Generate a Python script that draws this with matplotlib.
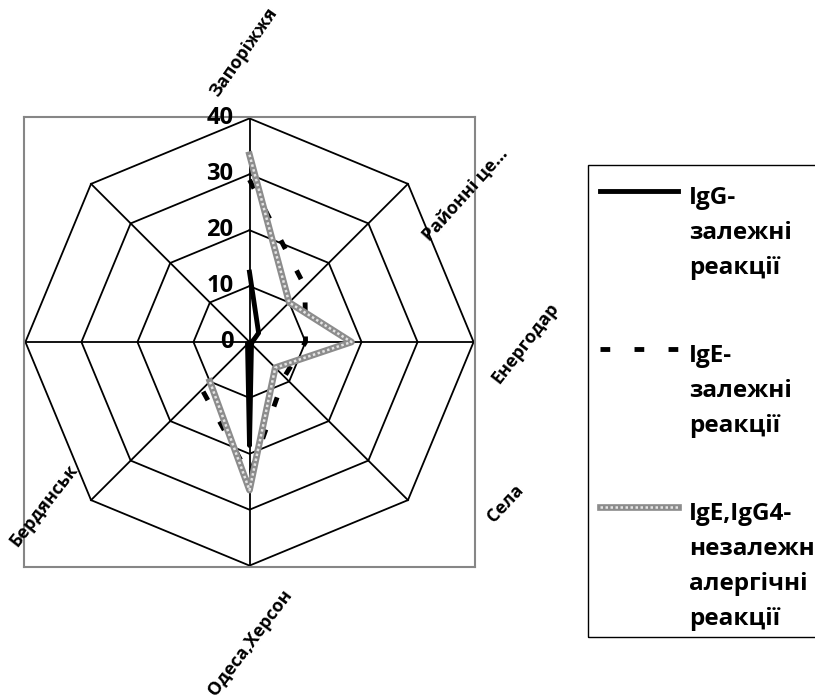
import numpy as np
import matplotlib.pyplot as plt
from matplotlib.patches import Rectangle
from matplotlib.lines import Line2D

plt.rcParams['font.family'] = ['Open Sans', 'DejaVu Sans']

# data (last two categories have no values / labels)
categories = ['Запоріжжя', 'Районні це...', 'Енергодар', 'Села', 'Одеса,Херсон', 'Бердянськ', '', '']
igg = [12.5, 2.3, 0.5, 0.5, 18.5, 0.5]
ige = [29, 14, 10, 8.8, 24, 12]
ige_igg4 = [33.5, 10, 18.2, 6.5, 26.5, 10]
ring_ticks = [0, 10, 20, 30, 40]
# legend text as shown in the reference (third label is cut there)
legend_labels = [['IgG-', 'залежні', 'реакції'],
                 ['IgE-', 'залежні', 'реакції'],
                 ['IgE,IgG4-', 'незалежн', 'алергічні', 'реакції']]

W, H = 815, 700
fig = plt.figure(figsize=(W/100, H/100), dpi=100)
ax = fig.add_axes([24/W, 1-567/H, 451/W, 450/H])

n = len(categories)
ang = np.arange(n) * 2*np.pi/n
rmax = ring_ticks[-1]

def xy(vals):
    v = np.asarray(vals, float)
    a = ang[:len(v)]
    return v*np.sin(a), v*np.cos(a)

# octagon rings and spokes
for t in ring_ticks[1:]:
    gx, gy = xy([t]*n)
    ax.plot(np.append(gx, gx[0]), np.append(gy, gy[0]), color='black', lw=1.3, zorder=1)
sx, sy = xy([rmax]*n)
for x1, y1 in zip(sx, sy):
    ax.plot([0, x1], [0, y1], color='black', lw=1.3, zorder=1)

# series
x, y = xy(igg)
ax.plot(x, y, color='black', lw=3.5, zorder=3)
x, y = xy(ige)
ax.plot(x, y, color='black', lw=3.5, dashes=(2, 5), zorder=3)
x, y = xy(ige_igg4)
ax.plot(x, y, color='#8c8c8c', lw=4.8, zorder=4)
ax.plot(x, y, color='#e4e4e4', lw=1.8, dashes=(1, 1), zorder=5)

lim = 40.25
ax.set_xlim(-lim, lim)
ax.set_ylim(-lim, lim)
ax.set_xticks([])
ax.set_yticks([])
for s in ax.spines.values():
    s.set_color('#868686')
    s.set_linewidth(1.5)

# value labels on the vertical axis
for t in ring_ticks:
    ax.text(-2.9, t, str(t), ha='right', va='center', fontsize=17, fontweight='bold')

# category labels (pixel position + rotation)
lbl_pos = [(244, 52, 55), (465, 195, 48), (525, 343, 52), (505, 503, 47), (250, 643, 53), (44, 505, 52)]
for name, (px, py, rot) in zip(categories, lbl_pos):
    fig.text(px/W, 1-py/H, name, rotation=rot, rotation_mode='anchor',
             ha='center', va='center', fontsize=13, fontweight='bold')

# legend drawn by hand
fig.add_artist(Rectangle((588/W, 1-637/H), 300/W, 472/H, transform=fig.transFigure,
                         fill=False, ec='black', lw=1.0))
hy = [191, 349, 507]
styles = [dict(color='black', lw=3.5),
          dict(color='black', lw=3.5, dashes=(2, 5)),
          dict(color='#8c8c8c', lw=4.8)]
for yy, st, lines in zip(hy, styles, legend_labels):
    fig.add_artist(Line2D([600/W, 678/W], [1-yy/H]*2, transform=fig.transFigure, **st))
    if st['color'] != 'black':
        fig.add_artist(Line2D([600/W, 678/W], [1-yy/H]*2, transform=fig.transFigure,
                              color='#e4e4e4', lw=1.8, dashes=(1, 1)))
    for i, line in enumerate(lines):
        fig.text(689/W, 1-(yy+13+i*35)/H, line, va='baseline', ha='left',
                 fontsize=17.5, fontweight='bold')

fig.savefig('out.png', dpi=100)
